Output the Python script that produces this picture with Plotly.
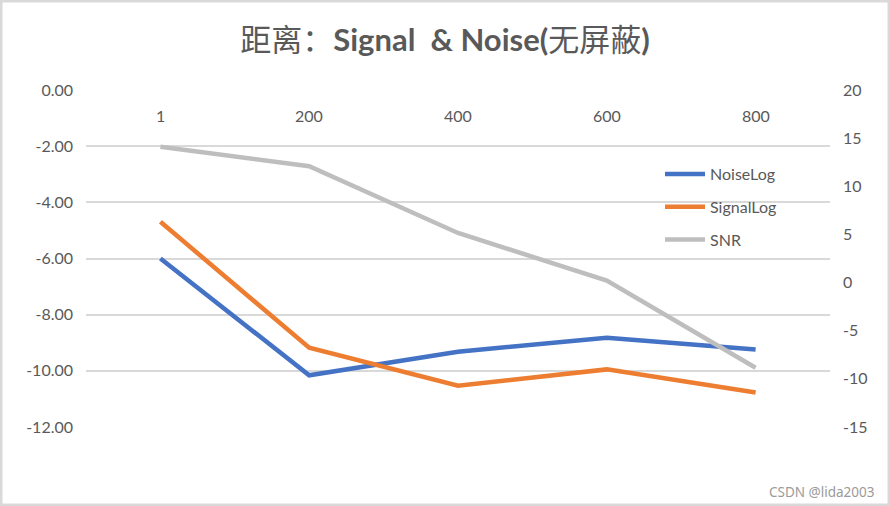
import plotly.graph_objects as go

categories = ["1", "200", "400", "600", "800"]
noise_log = [-6.00, -10.16, -9.32, -8.82, -9.24]
signal_log = [-4.69, -9.18, -10.53, -9.95, -10.77]
snr = [14.1, 12.08, 5.15, 0.21, -8.85]

left_ticks = [0, -2, -4, -6, -8, -10, -12]
left_labels = ["0.00", "-2.00", "-4.00", "-6.00", "-8.00", "-10.00", "-12.00"]
right_ticks = [20, 15, 10, 5, 0, -5, -10, -15]
right_labels = ["20", "15", "10", "5", "0", "-5", "-10", "-15"]

TXT = "#595959"
GRID = "#d9d9d9"
FONT = "Lato, 'Noto Sans CJK SC', sans-serif"

fig = go.Figure()
fig.add_trace(go.Scatter(x=categories, y=noise_log, name="NoiseLog", mode="lines",
                         line=dict(color="#4472C4", width=4.5), legendgroup="a"))
fig.add_trace(go.Scatter(x=categories, y=signal_log, name="SignalLog", mode="lines",
                         line=dict(color="#ED7D31", width=4.5), legendgroup="b"))
fig.add_trace(go.Scatter(x=categories, y=snr, name="SNR", mode="lines", yaxis="y2",
                         line=dict(color="#BEBEBE", width=4.5), legendgroup="c"))

L, R, T, B = 86, 60, 90, 79
W, H = 890, 506
pw, ph = W - L - R, H - T - B
eps = 0.002

fig.update_layout(
    width=W, height=H,
    margin=dict(l=L, r=R, t=T, b=B),
    paper_bgcolor="white", plot_bgcolor="white",
    font=dict(family=FONT, size=16, color=TXT),
    title=dict(text="距离：<b>Signal&nbsp; &amp; Noise(</b>无屏蔽<b>)</b>",
               x=0.5, xanchor="center", xref="container",
               y=1 - 40 / H, yanchor="middle", yref="container",
               font=dict(size=31, color=TXT, family=FONT)),
    xaxis=dict(type="category", categoryorder="array", categoryarray=categories,
               range=[-0.5, 4.5], showticklabels=False,
               ticks="", showgrid=False, zeroline=False, showline=False),
    yaxis=dict(range=[-12 - eps, 0 + eps], tickvals=left_ticks, ticktext=left_labels,
               showgrid=True, gridcolor=GRID, gridwidth=1.5, zeroline=False,
               showline=False, ticks="", ticklabelstandoff=12,
               tickfont=dict(size=16, color=TXT)),
    yaxis2=dict(range=[-15 - 3 * eps, 20 + 3 * eps], tickvals=right_ticks, ticktext=right_labels,
                overlaying="y", side="right",
                showgrid=False, zeroline=False, showline=False, ticks="",
                ticklabelstandoff=12, tickfont=dict(size=16, color=TXT)),
    legend=dict(x=(660 - L) / pw, y=(427 - 157) / ph, xanchor="left", yanchor="top",
                bgcolor="rgba(0,0,0,0)", font=dict(size=16, color=TXT),
                tracegroupgap=9, itemwidth=40),
    showlegend=True,
)

# category labels sit just below the 0 line, as the horizontal axis crosses at 0
for i, c in enumerate(categories):
    fig.add_annotation(text=c, x=i, y=0, xref="x", yref="y", yshift=-25,
                       showarrow=False, xanchor="center", yanchor="middle",
                       font=dict(size=16, color=TXT, family=FONT))

fig.add_shape(type="rect", xref="paper", yref="paper",
              x0=-L / pw, x1=(W - L) / pw, y0=-B / ph, y1=1 + T / ph,
              line=dict(color=GRID, width=5), fillcolor="rgba(0,0,0,0)", layer="above")

fig.add_annotation(text="CSDN @lida2003", xref="paper", yref="paper",
                   x=(876 - L) / pw, y=(427 - 492) / ph, xanchor="right", yanchor="middle",
                   showarrow=False, font=dict(size=13.5, color="#9a9a9a", family="'Noto Sans', sans-serif"))

fig.write_html("out.html")
